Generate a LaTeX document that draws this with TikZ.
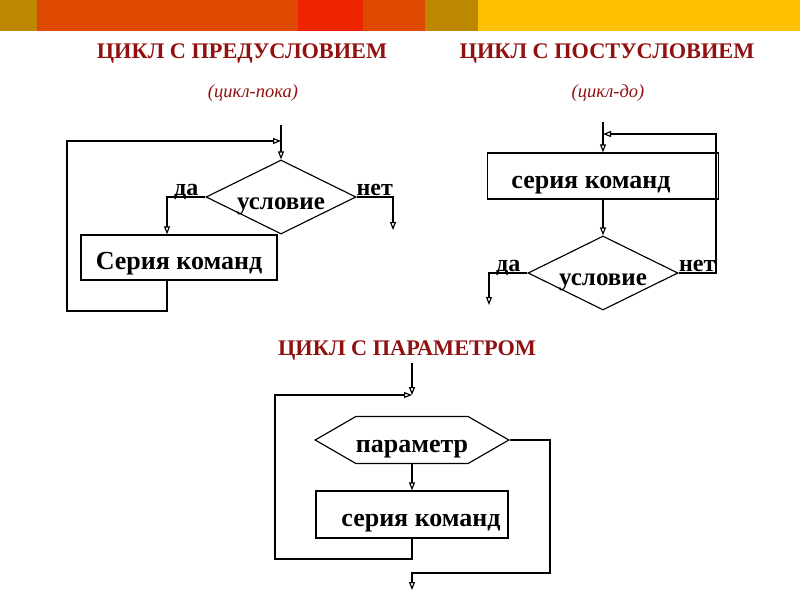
\documentclass[tikz,border=0pt]{standalone}
\usepackage{fontspec}
\setmainfont{Liberation Serif}
\usepackage{tikz}
\usetikzlibrary{arrows.meta}
\usetikzlibrary{shapes.geometric}
\usetikzlibrary{shapes.symbols}
\definecolor{olivebar}{RGB}{187,136,0}
\definecolor{rustbar}{RGB}{221,73,0}
\definecolor{redbar}{RGB}{238,36,0}
\definecolor{amberbar}{RGB}{255,192,0}
\definecolor{titlered}{RGB}{145,16,16}
\tikzset{hd/.style={anchor=base, text=titlered, font=\bfseries\fontsize{22.3}{22.3}\selectfont}}
\tikzset{sb/.style={anchor=base, text=titlered, font=\itshape\fontsize{18.5}{18.5}\selectfont}}
\tikzset{l/.style={inner sep=1pt, text depth=0pt, font=\bfseries\fontsize{24}{24}\selectfont}}
\tikzset{blk/.style={draw, text height=24pt, text depth=0pt, font=\bfseries\fontsize{26}{26}\selectfont}}
\tikzset{cond/.style={diamond, draw, aspect=2, inner sep=0pt, minimum width=150, minimum height=74, text height=24pt, text depth=0pt, font=\bfseries\fontsize{25}{25}\selectfont}}
\tikzset{hex/.style={signal, signal to=east and west, signal pointer angle=60, draw, inner sep=0pt, minimum width=192, minimum height=47, text height=24pt, text depth=0pt, font=\bfseries\fontsize{26}{26}\selectfont}}

\begin{document}
\begin{tikzpicture}[x=1pt, y=-1pt, line width=1.15pt, >={Triangle[open, length=8pt, width=6pt]}]
          \useasboundingbox (0,0) rectangle (800,600);
          \fill[olivebar] (0,0) rectangle (37,31);
          \fill[rustbar] (37,0) rectangle (298,31);
          \fill[redbar] (298,0) rectangle (363,31);
          \fill[rustbar] (363,0) rectangle (425,31);
          \fill[olivebar] (425,0) rectangle (478,31);
          \fill[amberbar] (478,0) rectangle (800,31);
          \node[hd] (T1) at (242,58) {ЦИКЛ С ПРЕДУСЛОВИЕМ};
          \node[sb] (U1) at (253,97) {(цикл-пока)};
          \node[hd] (T2) at (607,58) {ЦИКЛ С ПОСТУСЛОВИЕМ};
          \node[sb] (U2) at (608,97) {(цикл-до)};
          \node[hd] (T3) at (407,355) {ЦИКЛ С ПАРАМЕТРОМ};

          \coordinate (in1) at (281,125);
          \coordinate (j1) at (281,141);
          \coordinate (out1) at (393,230);
          \node[cond] (C1) at (281,197) {условие};
          \node[blk, minimum width=196, minimum height=45] (S1) at (179,257.5) {Серия команд};
          \draw[->] (in1) -- (C1.north);
          \draw[->] (C1.west) -| node[l, pos=0.25, above] {да} ([xshift=-12pt]S1.north);
          \draw[->] (C1.east) -| node[l, pos=0.25, above] {нет} (out1);
          \draw[->] ([xshift=-12pt]S1.south) |- (67,311) |- (j1);

          \coordinate (in2) at (603,122);
          \coordinate (j2) at (603,134);
          \coordinate (out2) at (489,305);
          \node[blk, minimum width=231, minimum height=46] (S2) at (603,176) {серия команд\hspace*{24pt}};
          \node[cond] (C2) at (603,273) {условие};
          \draw[->] (in2) -- (S2.north);
          \draw[->] (S2.south) -- (C2.north);
          \draw[->] (C2.west) -| node[l, pos=0.25, above] {да} (out2);
          \draw[->] (C2.east) -| node[l, pos=0.25, above] {нет} (716,134) -- (j2);

          \coordinate (in3) at (412,363);
          \coordinate (j3) at (412,395);
          \coordinate (out3) at (412,590);
          \node[hex] (P) at (412,440) {параметр};
          \node[blk, minimum width=192, minimum height=47] (S3) at (412,514.5) {\hspace*{18pt}серия команд};
          \draw[->] (in3) -- (j3);
          \draw[->] (P.south) -- (S3.north);
          \draw[->] (S3.south) |- (275,559) |- (j3);
          \draw[->] (P.east) -| (550,573) -| (out3);
        \end{tikzpicture}
\end{document}
